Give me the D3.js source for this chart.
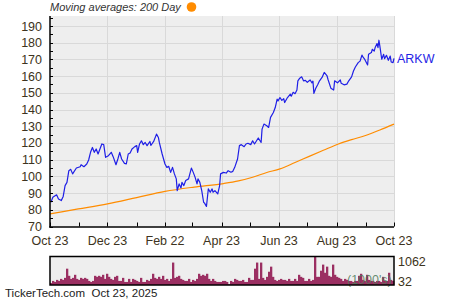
<!DOCTYPE html>
<html>
<head>
<meta charset="utf-8">
<script src="https://cdn.jsdelivr.net/npm/d3@7"></script>
<style>
  body { margin: 0; background: #fff; }
  svg { display: block; font-family: "Liberation Sans", Arial, sans-serif; }
</style>
</head>
<body>
<svg id="chart" width="450" height="300"></svg>
<script>
// ARKW, one year of daily closes, day offsets from Oct 23 2024
const startDate = "2024-10-23";
const endDate = "2025-10-23";

const priceDays = [1,3,7,9,12,14,16,18,20,22,24,28,32,33,36,39,41,43,45,47,49,51,53,55,57,59,62,65,67,70,72,74,76,79,81,83,85,87,90,92,93,95,97,99,101,103,106,107,110,113,115,116,119,122,124,126,128,130,132,134,135,137,139,140,142,144,147,150,152,154,156,157,159,161,163,164,166,168,170,172,173,175,178,180,181,184,187,189,192,194,196,199,201,203,206,208,210,213,215,217,221,224,225,227,230,232,234,237,239,241,242,244,246,248,249,252,255,256,258,260,262,263,265,267,269,271,273,276,278,279,280,282,284,286,289,291,294,295,298,301,302,305,308,309,312,315,317,320,322,324,327,329,331,332,334,337,338,341,342,344,345,347,348,349,350,352,354,355,357,359,361,362,364,365];
const priceValues = [84.5,87.5,89,86.5,85.5,88,94.5,96.4,103.4,104.2,101.5,105,105.8,107,105.8,107.4,109.8,114.4,117.3,114.4,116.4,113.4,116.4,119.4,119,111.4,112.4,114.4,111.8,107,110.4,114.4,110.4,107.8,107.5,113.4,114,116.4,117.8,118.4,114.4,119.4,121.3,119,120.3,118.4,120.9,118.5,120.9,125.3,123.3,120.3,113.4,107.4,105.4,106,102.4,105.4,101.5,98.5,91.5,95.5,93.1,96.4,94.5,97.5,98.5,105,102.4,99.4,95.5,98.5,96.4,91.5,84.5,84,82,92.5,90.5,92.5,90.5,91.5,89.5,94.5,101.5,102.4,102,103.4,102.5,103,105.4,110.4,118.4,119,117.8,119.4,119.8,119,121.3,119.4,123,120.3,128.3,131.3,130.3,129.3,135.3,138.2,141.2,146.2,145.2,147.2,145.5,146.5,144.2,147.2,149.2,148,150.3,149.5,151.7,157.2,158.8,159.6,157.2,157.5,156.3,157.7,156,157,149.7,152.8,154.8,157.2,159.6,162.2,160.1,158,152.8,151.7,157.2,156,157.7,155.7,154.8,155.2,157.2,159.6,163.1,165.5,168.1,169,172.6,171.5,170,166.7,173.1,174.1,176.1,175,177.1,179.5,177,181.5,178,170.1,173.1,170.5,172.5,169.5,172,168.5,168.1,170.7];

// 200 day moving average
const maDays = [0,30,61,92,122,153,184,200,215,230,244,260,275,290,306,320,334,350,365];
const maValues = [77.6,80.5,83.5,87.3,91,93.6,95.7,97.3,99.5,102.3,104.5,108.3,112,115.6,119.4,122,124.3,127.8,131.3];

// volume, thousands of shares
const volumes = [76,152,114,190,152,228,190,266,608,342,
  228,266,380,228,190,266,228,266,228,152,
  114,152,342,304,342,304,380,228,418,304,
  228,190,304,342,152,152,266,114,114,228,
  114,228,190,152,114,266,114,114,190,152,
  228,418,266,228,304,228,342,190,228,152,
  228,836,266,304,342,228,190,152,152,228,
  114,190,152,228,418,342,380,342,418,228,
  152,228,152,114,114,114,152,152,114,32,
  152,114,228,190,152,152,190,114,114,266,
  190,190,608,836,228,836,266,190,304,494,
  684,304,190,152,190,228,190,190,152,228,
  152,152,228,152,380,304,266,152,152,228,
  152,190,1062,304,304,532,760,456,684,342,
  304,760,380,304,266,228,152,228,190,152,
  152,114,152,152,342,418,190,152,380,190,
  152,152,114,152,152,114,304,152,152,456,
  190,152];

const yTicks = [70,80,90,100,110,120,130,140,150,160,170,180,190];
const yMinorTicks = [75,85,95,105,115,125,135,145,155,165,175,185,195];
const xTickDates = ["2024-10-23","2024-12-23","2025-02-22","2025-04-23","2025-06-23","2025-08-23","2025-10-23"];
const xTickLabels = ["Oct 23","Dec 23","Feb 22","Apr 23","Jun 23","Aug 23","Oct 23"];
const xMinorDates = ["2024-11-23","2025-01-23","2025-03-23","2025-05-23","2025-07-23","2025-09-23"];

const parse = d3.timeParse("%Y-%m-%d");
const t0 = parse(startDate);
const toDate = d => d3.timeDay.offset(t0, d);

const svg = d3.select("#chart");
const pLeft = 50, pRight = 394, pTop = 16, pBottom = 226.5;
const textColor = "#3d3320";

const x = d3.scaleTime().domain([t0, parse(endDate)]).range([pLeft, pRight]);
const y = d3.scaleLinear().domain([70, 196]).range([pBottom, pTop]);

// plot background
svg.append("rect")
  .attr("x", pLeft).attr("y", pTop)
  .attr("width", pRight - pLeft).attr("height", pBottom - pTop)
  .attr("fill", "#eeeeee");

// grid
svg.append("g").selectAll("line").data(yTicks.slice(1)).join("line")
  .attr("x1", pLeft).attr("x2", pRight)
  .attr("y1", d => Math.round(y(d)) + 0.5).attr("y2", d => Math.round(y(d)) + 0.5)
  .attr("stroke", "#d9d9d9");
svg.append("g").selectAll("line").data(xTickDates.slice(1)).join("line")
  .attr("x1", d => Math.round(x(parse(d))) + 0.5).attr("x2", d => Math.round(x(parse(d))) + 0.5)
  .attr("y1", pTop).attr("y2", pBottom)
  .attr("stroke", "#d9d9d9");

// moving average
const maLine = d3.line()
  .x((d, i) => x(toDate(maDays[i])))
  .y(d => y(d))
  .curve(d3.curveMonotoneX);
svg.append("path")
  .attr("d", maLine(maValues))
  .attr("fill", "none")
  .attr("stroke", "#ff8c00")
  .attr("stroke-width", 1.2);

// price
const priceLine = d3.line()
  .x((d, i) => x(toDate(priceDays[i])))
  .y(d => y(d));
svg.append("path")
  .attr("d", priceLine(priceValues))
  .attr("fill", "none")
  .attr("stroke", "#1f1fe6")
  .attr("stroke-width", 1.2)
  .attr("stroke-linejoin", "round");

// axes (ticks point inward)
const yAxis = svg.append("g");
yAxis.append("line")
  .attr("x1", pLeft).attr("x2", pLeft).attr("y1", pTop).attr("y2", pBottom + 1)
  .attr("stroke", "#000").attr("stroke-width", 1.5);
yAxis.selectAll("line.tk").data(yTicks.concat(yMinorTicks)).join("line")
  .attr("class", "tk")
  .attr("x1", pLeft).attr("x2", pLeft + 3)
  .attr("y1", d => Math.round(y(d)) + 0.5).attr("y2", d => Math.round(y(d)) + 0.5)
  .attr("stroke", "#000");
yAxis.selectAll("text").data(yTicks).join("text")
  .attr("x", 42).attr("y", d => y(d) + 4.5)
  .attr("text-anchor", "end")
  .attr("font-size", 12.5)
  .attr("fill", textColor)
  .text(d => d);

const xAxis = svg.append("g");
xAxis.append("line")
  .attr("x1", pLeft - 0.75).attr("x2", pRight).attr("y1", pBottom + 0.5).attr("y2", pBottom + 0.5)
  .attr("stroke", "#000").attr("stroke-width", 1.5);
xAxis.selectAll("line.tk").data(xTickDates.concat(xMinorDates)).join("line")
  .attr("class", "tk")
  .attr("x1", d => Math.round(x(parse(d))) + 0.5).attr("x2", d => Math.round(x(parse(d))) + 0.5)
  .attr("y1", pBottom).attr("y2", pBottom - 4)
  .attr("stroke", "#000");
xAxis.selectAll("text").data(xTickDates).join("text")
  .attr("x", d => x(parse(d)))
  .attr("y", 245)
  .attr("text-anchor", "middle")
  .attr("font-size", 12.5)
  .attr("fill", textColor)
  .text((d, i) => xTickLabels[i]);

// series label
svg.append("text")
  .attr("x", 397)
  .attr("y", y(priceValues[priceValues.length - 1]) + 4.5)
  .attr("font-size", 12.5)
  .attr("fill", "#1f1fe6")
  .text("ARKW");

// title
svg.append("text")
  .attr("x", 50).attr("y", 11)
  .attr("font-size", 11)
  .attr("font-style", "italic")
  .attr("fill", "#333")
  .text("Moving averages: 200 Day");
svg.append("circle")
  .attr("cx", 191.5).attr("cy", 7).attr("r", 4.8)
  .attr("fill", "#ff8c00");

// volume panel
const vTop = 256.5, vBottom = 285;
const vx = d3.scaleBand().domain(d3.range(volumes.length)).range([pLeft, pRight]).paddingInner(0);
const vy = d3.scaleLinear().domain([0, d3.max(volumes)]).range([vBottom, vTop]);

svg.append("rect")
  .attr("x", pLeft).attr("y", vTop)
  .attr("width", pRight - pLeft).attr("height", vBottom - vTop)
  .attr("fill", "#eeeeee");
svg.append("g").selectAll("rect").data(volumes).join("rect")
  .attr("x", (d, i) => vx(i))
  .attr("width", vx.bandwidth() + 0.3)
  .attr("y", d => vy(d))
  .attr("height", d => vBottom - vy(d))
  .attr("fill", "#9b2f62");
svg.append("text")
  .attr("x", 347).attr("y", 284)
  .attr("font-size", 12.5)
  .attr("fill", "#4f7a5a")
  .attr("fill-opacity", 0.85)
  .text("(1000's)");
svg.append("rect")
  .attr("x", pLeft).attr("y", vTop)
  .attr("width", pRight - pLeft).attr("height", vBottom - vTop)
  .attr("fill", "none")
  .attr("stroke", "#000")
  .attr("stroke-width", 1.5);
svg.append("text")
  .attr("x", 398).attr("y", 266)
  .attr("font-size", 12.5).attr("fill", textColor)
  .text(d3.max(volumes));
svg.append("text")
  .attr("x", 398).attr("y", 286)
  .attr("font-size", 12.5).attr("fill", textColor)
  .text(d3.min(volumes));

// footer
svg.append("text")
  .attr("x", 5).attr("y", 297)
  .attr("font-size", 11.5)
  .attr("fill", "#222")
  .style("white-space", "pre")
  .text("TickerTech.com  Oct 23, 2025");
</script>
</body>
</html>
